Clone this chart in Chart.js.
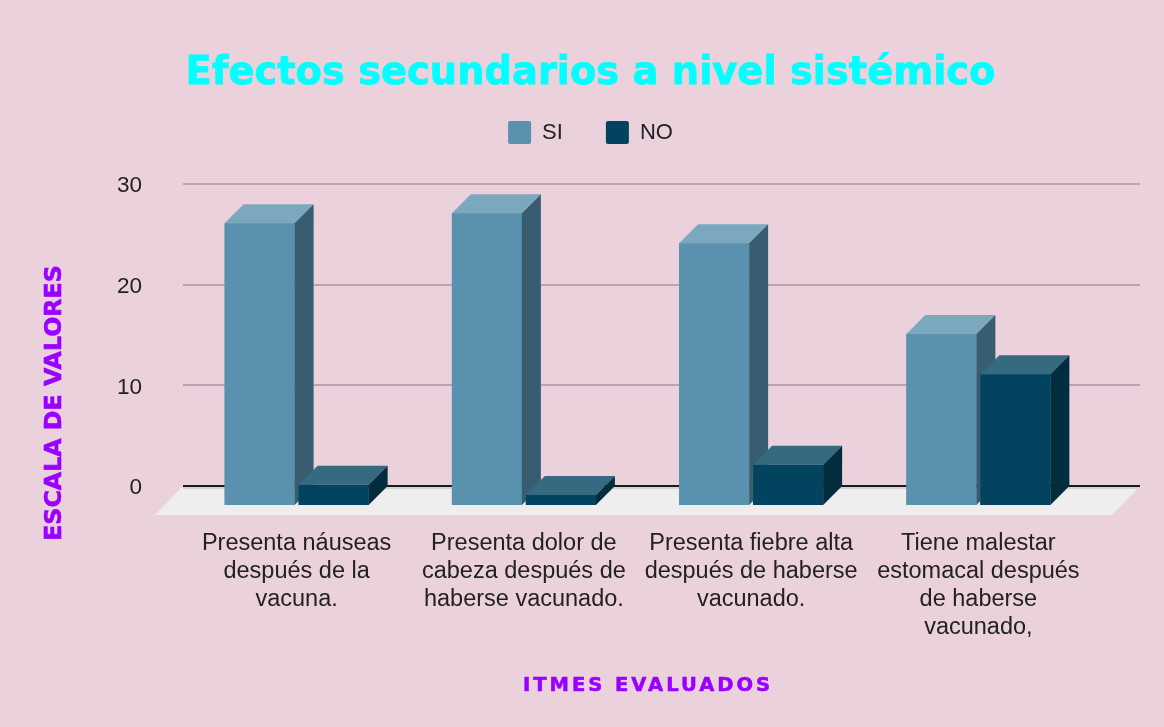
<!DOCTYPE html>
<html>
<head>
<meta charset="utf-8">
<script src="https://cdn.jsdelivr.net/npm/chart.js@4"></script>
<style>
  html, body { margin: 0; padding: 0; background: #ead1dc; }
  canvas { display: block; }
</style>
</head>
<body>
<canvas id="chart" width="1164" height="727"></canvas>
<script>
// dati del grafico
const categories = [
    ['Presenta náuseas', 'después de la', 'vacuna.'],
    ['Presenta dolor de', 'cabeza después de', 'haberse vacunado.'],
    ['Presenta fiebre alta', 'después de haberse', 'vacunado.'],
    ['Tiene malestar', 'estomacal después', 'de haberse', 'vacunado,']
];
const seriesNames = ['SI', 'NO'];
const siValues = [28, 29, 26, 17];
const noValues = [2, 1, 4, 13];
const yTicks = [0, 10, 20, 30];

const chartTitle = 'Efectos secundarios a nivel sistémico';
const yTitle = 'ESCALA DE VALORES';
const xTitle = 'ITMES EVALUADOS';

// colori delle facce 3D (fronte, sopra, lato)
const frontColors = ['#5991ae', '#02445f'];
const topColors = ['#7ba7bf', '#356a80'];
const sideColors = ['#395d70', '#022d3f'];
const DEPTH = 19;

const ARIAL = '"Liberation Sans", Arial, sans-serif';
const HEAVY = '"DejaVu Sans", Verdana, sans-serif';

// sfondo, pavimento e griglia dietro le barre
const backdrop = {
    id: 'backdrop',
    beforeDraw(chart) {
        const ctx = chart.ctx;
        ctx.save();
        ctx.fillStyle = '#ead1dc';
        ctx.fillRect(0, 0, chart.width, chart.height);
        ctx.restore();
    },
    beforeDatasetsDraw(chart) {
        const ctx = chart.ctx;
        const area = chart.chartArea;
        const y = chart.scales.y;
        const base = y.getPixelForValue(0);
        const left = area.left;
        const right = area.right + 48;
        ctx.save();
        // pavimento
        ctx.fillStyle = '#eeeeee';
        ctx.beginPath();
        ctx.moveTo(left, base - DEPTH);
        ctx.lineTo(right, base - DEPTH);
        ctx.lineTo(area.right + 20, base + 10);
        ctx.lineTo(left - 28, base + 10);
        ctx.closePath();
        ctx.fill();
        // ombra sotto la linea dello zero
        ctx.fillStyle = '#d6d0d3';
        ctx.fillRect(left, base - DEPTH + 1, right - left, 2);
        // linee della griglia sul piano di fondo
        yTicks.forEach(v => {
            const py = Math.round(y.getPixelForValue(v) - DEPTH);
            ctx.beginPath();
            ctx.moveTo(left, py);
            ctx.lineTo(right, py);
            ctx.lineWidth = 2;
            ctx.strokeStyle = v === 0 ? '#1a1a1a' : '#b9a3ae';
            ctx.stroke();
        });
        ctx.restore();
    },
    afterDatasetsDraw(chart) {
        const ctx = chart.ctx;
        const base = chart.scales.y.getPixelForValue(0);
        const metas = chart.data.datasets.map((ds, k) => chart.getDatasetMeta(k));
        ctx.save();
        categories.forEach((c, i) => {
            metas.forEach((meta, k) => {
                const bar = meta.data[i];
                const p = bar.getProps(['x', 'y', 'width'], true);
                const l = p.x - p.width / 2;
                const r = p.x + p.width / 2;
                const t = p.y;
                // fronte
                ctx.fillStyle = frontColors[k];
                ctx.fillRect(l, t, r - l, base - t);
                // sopra
                ctx.fillStyle = topColors[k];
                ctx.beginPath();
                ctx.moveTo(l, t);
                ctx.lineTo(r, t);
                ctx.lineTo(r + DEPTH, t - DEPTH);
                ctx.lineTo(l + DEPTH, t - DEPTH);
                ctx.closePath();
                ctx.fill();
                // lato
                ctx.fillStyle = sideColors[k];
                ctx.beginPath();
                ctx.moveTo(r, t);
                ctx.lineTo(r + DEPTH, t - DEPTH);
                ctx.lineTo(r + DEPTH, base - DEPTH);
                ctx.lineTo(r, base);
                ctx.closePath();
                ctx.fill();
            });
        });
        ctx.restore();
    },
    afterDraw(chart) {
        const ctx = chart.ctx;
        ctx.save();
        // titolo piu' marcato: ripassa il contorno del titolo nativo
        const tb = chart.titleBlock;
        if (tb) {
            const opts = tb.options;
            const font = Chart.helpers.toFont(opts.font);
            const pad = Chart.helpers.toPadding(opts.padding);
            ctx.font = font.string;
            ctx.textAlign = 'center';
            ctx.textBaseline = 'middle';
            ctx.strokeStyle = opts.color;
            ctx.lineWidth = 0.8;
            ctx.lineJoin = 'round';
            ctx.strokeText(chartTitle, (tb.left + tb.right) / 2, tb.top + pad.top + font.lineHeight / 2);
        }
        ctx.fillStyle = '#9900ff';
        ctx.strokeStyle = '#9900ff';
        ctx.lineWidth = 0.6;
        ctx.textAlign = 'center';
        ctx.textBaseline = 'middle';
        // titolo asse Y
        ctx.save();
        ctx.translate(55, 403);
        ctx.rotate(-Math.PI / 2);
        ctx.font = 'bold 23.7px ' + HEAVY;
        ctx.fillText(yTitle, 0, 0);
        ctx.strokeText(yTitle, 0, 0);
        ctx.restore();
        // titolo asse X
        ctx.font = 'bold 19.5px ' + HEAVY;
        ctx.letterSpacing = '3px';
        ctx.fillText(xTitle, 648, 686);
        ctx.strokeText(xTitle, 648, 686);
        ctx.restore();
    }
};

new Chart(document.getElementById('chart'), {
    type: 'bar',
    data: {
        labels: categories,
        datasets: [
            { label: seriesNames[0], data: siValues, backgroundColor: frontColors[0], borderWidth: 0 },
            { label: seriesNames[1], data: noValues, backgroundColor: frontColors[1], borderWidth: 0 }
        ]
    },
    options: {
        responsive: false,
        animation: false,
        devicePixelRatio: 1,
        categoryPercentage: 0.651,
        barPercentage: 0.946,
        layout: {
            padding: { left: 89, right: 72, top: 0, bottom: 82 }
        },
        plugins: {
            title: {
                display: true,
                text: chartTitle,
                color: '#00ffff',
                font: { family: HEAVY, size: 38.4, weight: 'bold', lineHeight: 1.2 },
                padding: { top: 51, bottom: -19 }
            },
            legend: {
                position: 'top',
                labels: {
                    color: '#222222',
                    font: { family: ARIAL, size: 22 },
                    boxWidth: 23,
                    boxHeight: 23,
                    padding: 43,
                    useBorderRadius: true,
                    borderRadius: 2
                }
            },
            // spaziatore tra legenda e area del grafico
            subtitle: {
                display: true,
                text: '',
                weight: 500,
                font: { size: 1, lineHeight: 1 },
                padding: { top: 48, bottom: 0 }
            },
            tooltip: { enabled: false }
        },
        scales: {
            x: {
                grid: { display: false, drawTicks: false },
                border: { display: false },
                ticks: {
                    color: '#222222',
                    font: { family: ARIAL, size: 23.5, lineHeight: 1.19 },
                    padding: 25,
                    maxRotation: 0,
                    autoSkip: false
                },
                afterFit(scale) { scale.height = 140; }
            },
            y: {
                min: 0,
                max: 30,
                grid: { display: false, drawTicks: false },
                border: { display: false },
                ticks: {
                    stepSize: 10,
                    color: '#1f1f1f',
                    font: { family: ARIAL, size: 22.5 },
                    padding: 41,
                    labelOffset: -DEPTH + 2
                },
                afterFit(scale) { scale.width = 94; }
            }
        }
    },
    plugins: [backdrop]
});
</script>
</body>
</html>
